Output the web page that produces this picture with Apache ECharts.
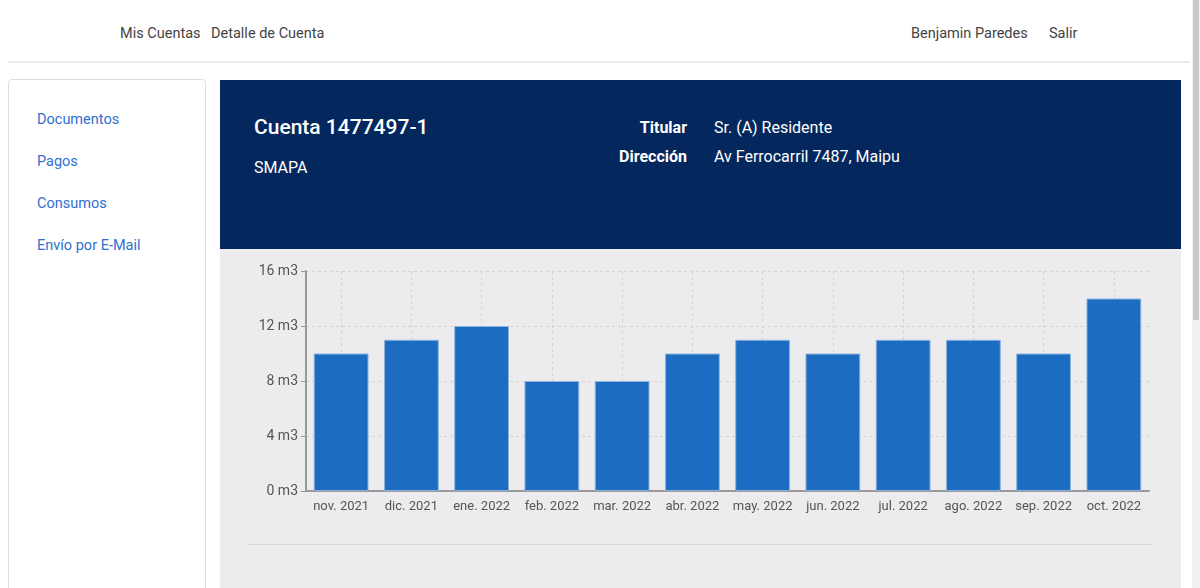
<!DOCTYPE html>
<html>
<head>
<meta charset="utf-8">
<script src="https://cdn.jsdelivr.net/npm/echarts@6/dist/echarts.min.js"></script>
<style>
  body { margin: 0; width: 1200px; height: 588px; overflow: hidden; background: #fff; font-family: Roboto, "Noto Sans", sans-serif; position: relative; }
  .nav { position: absolute; left: 8px; top: 0; width: 1182px; height: 61px; border-bottom: 2px solid #ececec; }
  .nav span { position: absolute; top: 25px; font-size: 14.5px; color: #444; }
  .side { position: absolute; left: 8px; top: 79px; width: 196px; height: 520px; border: 1px solid #dedede; border-radius: 4px; background: #fff; }
  .side a { position: absolute; left: 28px; font-size: 14.5px; color: #2f6fd0; text-decoration: none; }
  .main { position: absolute; left: 220px; top: 80px; width: 961px; height: 520px; background: #ececef; }
  .head { position: absolute; left: 0; top: 0; width: 961px; height: 169px; background: #04285e; color: #fff; }
  .head div { position: absolute; }
  .sep { position: absolute; left: 28px; top: 464px; width: 905px; height: 1px; background: #d6d6d8; }
  .scroll { position: absolute; left: 1192px; top: 0; width: 8px; height: 588px; background: #f0f0f0; }
  .thumb { position: absolute; left: 1193px; top: 0; width: 6px; height: 320px; background: #c8c8c8; }
  #chart { position: absolute; left: 0; top: 169px; width: 961px; height: 290px; }
</style>
</head>
<body>
<div class="nav">
  <span style="left:112px">Mis Cuentas</span>
  <span style="left:203px">Detalle de Cuenta</span>
  <span style="left:903px">Benjamin Paredes</span>
  <span style="left:1041px">Salir</span>
</div>
<div class="side">
  <a style="top:31px">Documentos</a>
  <a style="top:73px">Pagos</a>
  <a style="top:115px">Consumos</a>
  <a style="top:157px">Envío por E-Mail</a>
</div>
<div class="main">
  <div class="head">
    <div style="left:34px;top:35px;font-size:21px;font-weight:500">Cuenta 1477497-1</div>
    <div style="left:34px;top:78px;font-size:16px">SMAPA</div>
    <div style="right:494px;top:38px;font-size:16px;font-weight:700">Titular</div>
    <div style="right:494px;top:67px;font-size:16px;font-weight:700">Dirección</div>
    <div style="left:494px;top:38px;font-size:16px">Sr. (A) Residente</div>
    <div style="left:494px;top:67px;font-size:16px">Av Ferrocarril 7487, Maipu</div>
  </div>
  <div id="chart"></div>
  <div class="sep"></div>
</div>
<div class="scroll"></div>
<div class="thumb"></div>
<script>
const months = ['nov. 2021', 'dic. 2021', 'ene. 2022', 'feb. 2022', 'mar. 2022', 'abr. 2022',
  'may. 2022', 'jun. 2022', 'jul. 2022', 'ago. 2022', 'sep. 2022', 'oct. 2022'];
const consumo = [10, 11, 12, 8, 8, 10, 11, 10, 11, 11, 10, 14];
const yTicks = [0, 4, 8, 12, 16];

const chart = echarts.init(document.getElementById('chart'));
chart.setOption({
  animation: false,
  textStyle: { fontFamily: 'Roboto' },
  grid: { left: 86, right: 32, top: 22, height: 220 },
  xAxis: {
    type: 'category',
    data: months,
    axisLine: { lineStyle: { color: '#999', width: 2 } },
    axisTick: { alignWithLabel: true, interval: 0, length: 5, lineStyle: { color: '#999' } },
    axisLabel: { color: '#555', fontSize: 13, margin: 9, interval: 0 },
    splitLine: { show: true, alignWithLabel: true, interval: 0, lineStyle: { color: '#d4d4d6', type: [3, 3] } }
  },
  yAxis: {
    type: 'value',
    min: yTicks[0],
    max: yTicks[yTicks.length - 1],
    interval: yTicks[1] - yTicks[0],
    axisLine: { show: true, lineStyle: { color: '#999', width: 2 } },
    axisTick: { show: true, length: 5, lineStyle: { color: '#999' } },
    axisLabel: { color: '#555', fontSize: 14, margin: 8, padding: [6, 0, 0, 0], formatter: v => v + ' m3' },
    splitLine: { lineStyle: { color: '#d4d4d6', type: [3, 3] } }
  },
  series: [{
    type: 'bar',
    data: consumo,
    barWidth: '78%',
    itemStyle: { color: '#1c6dc1', borderColor: '#8fb3dc', borderWidth: 1 }
  }]
});
</script>
</body>
</html>
